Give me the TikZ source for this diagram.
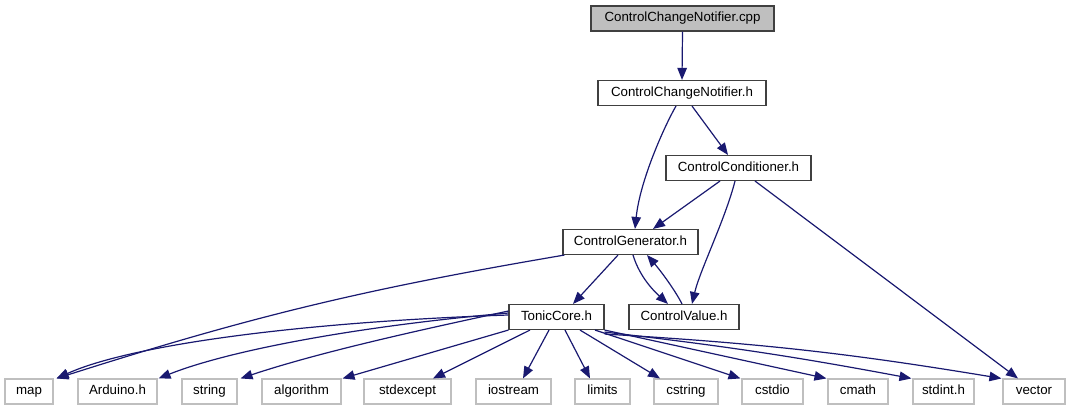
\documentclass[tikz,border=0pt]{standalone}
\usepackage{fontspec}
\setmainfont{Liberation Sans}
\usetikzlibrary{arrows.meta}
\definecolor{edgeblue}{HTML}{191970}
\definecolor{grayline}{HTML}{BFBFBF}
\definecolor{rootfill}{HTML}{BFBFBF}
\definecolor{darkline}{HTML}{404040}
\tikzset{
  box/.style={draw=darkline, line width=1.1pt, fill=white, inner sep=0pt, minimum height=25pt, text height=9.6pt, text depth=2.8pt, font=\fontsize{13.3}{16}\selectfont},
  rootbox/.style={box, fill=rootfill},
  extbox/.style={box, draw=grayline},
  dep/.style={draw=edgeblue, line width=1.2pt, -{Triangle[length=12pt,width=9.5pt]}, fill=none},
}
\begin{document}
\begin{tikzpicture}[x=1pt,y=-1pt]
\useasboundingbox (0,0) rectangle (1071,411);
% nodes
\node[rootbox, minimum width=183pt] (cpp) at (682.5,18.5) {ControlChangeNotifier.cpp};
\node[box, minimum width=168pt] (ccn) at (682,93) {ControlChangeNotifier.h};
\node[box, minimum width=145pt] (cond) at (738.5,168) {ControlConditioner.h};
\node[box, minimum width=135pt] (gen) at (630.5,242) {ControlGenerator.h};
\node[box, minimum width=110pt] (val) at (684,317) {ControlValue.h};
\node[box, minimum width=95pt] (tonic) at (556.5,317) {TonicCore.h};
\node[extbox, minimum width=48pt] (map) at (29,391.5) {map};
\node[extbox, minimum width=79pt] (ard) at (117.5,391.5) {Arduino.h};
\node[extbox, minimum width=55pt] (str) at (209.5,391.5) {string};
\node[extbox, minimum width=79pt] (alg) at (301.5,391.5) {algorithm};
\node[extbox, minimum width=87pt] (exc) at (407.5,391.5) {stdexcept};
\node[extbox, minimum width=75pt] (ios) at (513.5,391.5) {iostream};
\node[extbox, minimum width=55pt] (lim) at (602.5,391.5) {limits};
\node[extbox, minimum width=64pt] (cstr) at (686,391.5) {cstring};
\node[extbox, minimum width=61pt] (cstd) at (772.5,391.5) {cstdio};
\node[extbox, minimum width=60pt] (cmath) at (858,391.5) {cmath};
\node[extbox, minimum width=61pt] (sint) at (943.5,391.5) {stdint.h};
\node[extbox, minimum width=62pt] (vec) at (1034,391.5) {vector};
% edges
\draw[dep] (cpp.south) -- (ccn.north);
\draw[dep] ([xshift=10pt]ccn.south) -- ([xshift=-10.5pt]cond.north);
\draw[dep] ([xshift=-6pt]ccn.south) .. controls (665,125) and (640,180) .. ([xshift=4.5pt]gen.north);
\draw[dep] ([xshift=-18.5pt]cond.south) -- ([xshift=22.5pt]gen.north);
\draw[dep] ([xshift=-3.5pt]cond.south) .. controls (725,220) and (700,270) .. ([xshift=8pt]val.north);
\draw[dep] ([xshift=16.5pt]cond.south) -- ([xshift=-16pt]vec.north);
\draw[dep] ([xshift=2pt]gen.south west) to[bend right=4] ([xshift=3pt]map.north east);
\draw[dep] ([xshift=-12.5pt]gen.south) -- ([xshift=16.5pt]tonic.north);
\draw[dep] ([xshift=2.5pt]gen.south) .. controls (640,278) and (655,292) .. ([xshift=-16pt]val.north);
\draw[dep] ([xshift=-2pt]val.north) .. controls (675,290) and (660,270) .. ([xshift=16.5pt]gen.south);
% TonicCore includes
\draw[dep] ([yshift=2pt]tonic.west) .. controls (300,322) and (130,345) .. ([xshift=3pt]map.north east);
\draw[dep] ([yshift=4pt]tonic.west) .. controls (360,326) and (230,350) .. ([xshift=1pt]ard.north east);
\draw[dep] ([yshift=6pt]tonic.west) .. controls (420,330) and (320,352) .. ([xshift=3pt]str.north east);
\draw[dep] (tonic.south west) -- ([xshift=1pt]alg.north east);
\draw[dep] ([xshift=-26.5pt]tonic.south) -- ([xshift=25.5pt]exc.north);
\draw[dep] ([xshift=-7.5pt]tonic.south) -- ([xshift=9.5pt]ios.north);
\draw[dep] ([xshift=8.5pt]tonic.south) -- ([xshift=-12.5pt]lim.north);
\draw[dep] ([xshift=23.5pt]tonic.south) -- ([xshift=-26pt]cstr.north);
\draw[dep] ([xshift=38.5pt]tonic.south) -- ([xshift=-1pt]cstd.north west);
\draw[dep] (tonic.south east) -- ([xshift=-1pt]cmath.north west);
\draw[dep] ([yshift=-2pt]tonic.south east) to[bend left=2] ([xshift=-1pt]sint.north west);
\draw[dep] ([yshift=-4pt]tonic.south east) to[bend left=3] ([xshift=-1pt]vec.north west);
\end{tikzpicture}
\end{document}
